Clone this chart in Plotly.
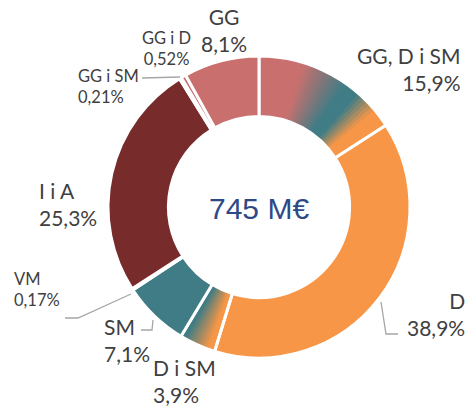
import plotly.graph_objects as go

# ---- data ----
labels = ["GG, D i SM", "D", "D i SM", "SM", "VM", "I i A", "GG i SM", "GG i D", "GG"]
values = [15.9, 38.9, 3.9, 7.1, 0.17, 25.3, 0.21, 0.52, 8.1]
pct_text = ["15,9%", "38,9%", "3,9%", "7,1%", "0,17%", "25,3%", "0,21%", "0,52%", "8,1%"]
total_text = "745 M€"

# ---- styling ----
PINK, ORANGE, TEAL, DRED = "#C96F6E", "#F79646", "#3F7C85", "#772B2B"
colors = [None, ORANGE, None, TEAL, "#8FA8C8", DRED, "#B05050", "#C96F6E", PINK]
# gradient stops (fraction along slice, clockwise)
gradients = {
    0: [(0.0, PINK), (0.3, PINK), (0.62, TEAL), (0.72, TEAL), (0.88, ORANGE), (1.0, ORANGE)],
    2: [(0.0, ORANGE), (0.2, ORANGE), (0.9, TEAL), (1.0, TEAL)],
}

def hex2rgb(h):
    h = h.lstrip("#")
    return tuple(int(h[i:i + 2], 16) for i in (0, 2, 4))

def interp(stops, t):
    for (t0, c0), (t1, c1) in zip(stops[:-1], stops[1:]):
        if t0 <= t <= t1:
            f = 0 if t1 == t0 else (t - t0) / (t1 - t0)
            a, b = hex2rgb(c0), hex2rgb(c1)
            return "rgb(%d,%d,%d)" % tuple(round(a[k] + (b[k] - a[k]) * f) for k in range(3))
    return stops[-1][1]

N = 40
sub_vals, sub_cols = [], []
for i, v in enumerate(values):
    if i in gradients:
        for k in range(N):
            sub_vals.append(v / N)
            sub_cols.append(interp(gradients[i], (k + 0.5) / N))
    else:
        sub_vals.append(v)
        sub_cols.append(colors[i])

W, H = 473, 408
dom = dict(x=[108 / W, 410 / W], y=[1 - 358 / H, 1 - 56 / H])

fig = go.Figure()
fig.add_trace(go.Pie(values=sub_vals, sort=False, direction="clockwise", hole=0.6,
                     marker=dict(colors=sub_cols, line=dict(color=sub_cols, width=1)),
                     textinfo="none", hoverinfo="skip", domain=dom, showlegend=False))
fig.add_trace(go.Pie(labels=labels, values=values, sort=False, direction="clockwise", hole=0.6,
                     marker=dict(colors=[c if c else "rgba(0,0,0,0)" for c in colors],
                                 line=dict(color="white", width=3)),
                     textinfo="none", domain=dom, showlegend=False))

def P(x, y):
    return x / W, 1 - y / H

BIG, SMALL = 21, 16.5
# label positions (pixel x, middle y, anchor, size)
lab_pos = {
    "GG": (224, 30, "center", BIG),
    "GG i D": (166, 48, "center", SMALL),
    "GG i SM": (76, 86, "left", SMALL),
    "GG, D i SM": (462, 69, "right", BIG),
    "I i A": (37, 204, "left", BIG),
    "VM": (12, 289, "left", SMALL),
    "SM": (102, 340, "left", BIG),
    "D i SM": (151, 381, "left", BIG),
    "D": (467, 314, "right", BIG),
}
for lab, pt in zip(labels, pct_text):
    x, y, anc, sz = lab_pos[lab]
    px, py = P(x, y)
    fig.add_annotation(x=px, y=py, xref="paper", yref="paper", xanchor=anc, yanchor="middle",
                       align=anc, showarrow=False, text=f"{lab}<br>{pt}",
                       font=dict(family="Lato, sans-serif", size=sz, color="#404040"))

fig.add_annotation(x=P(259, 0)[0], y=P(0, 209)[1], xref="paper", yref="paper", showarrow=False,
                   text=total_text, font=dict(family="Liberation Sans, Arial", size=30, color="#2E4A86"))

# leader lines
lines = [
    [(142, 78), (180, 77)],
    [(65, 318), (78, 318), (131, 294)],
    [(141, 330), (152, 330), (153, 320)],
    [(381, 302), (386, 334), (398, 334)],
]
for pts in lines:
    path = "M " + " L ".join(f"{P(x, y)[0]},{P(x, y)[1]}" for x, y in pts)
    fig.add_shape(type="path", path=path, xref="paper", yref="paper",
                  line=dict(color="#A6A6A6", width=1.3))

fig.update_layout(width=W, height=H, margin=dict(l=0, r=0, t=0, b=0),
                  paper_bgcolor="white", plot_bgcolor="white")
fig.write_html("out.html", config={"displayModeBar": False},
               post_script="document.body.style.margin='0';document.body.style.overflow='hidden';")
